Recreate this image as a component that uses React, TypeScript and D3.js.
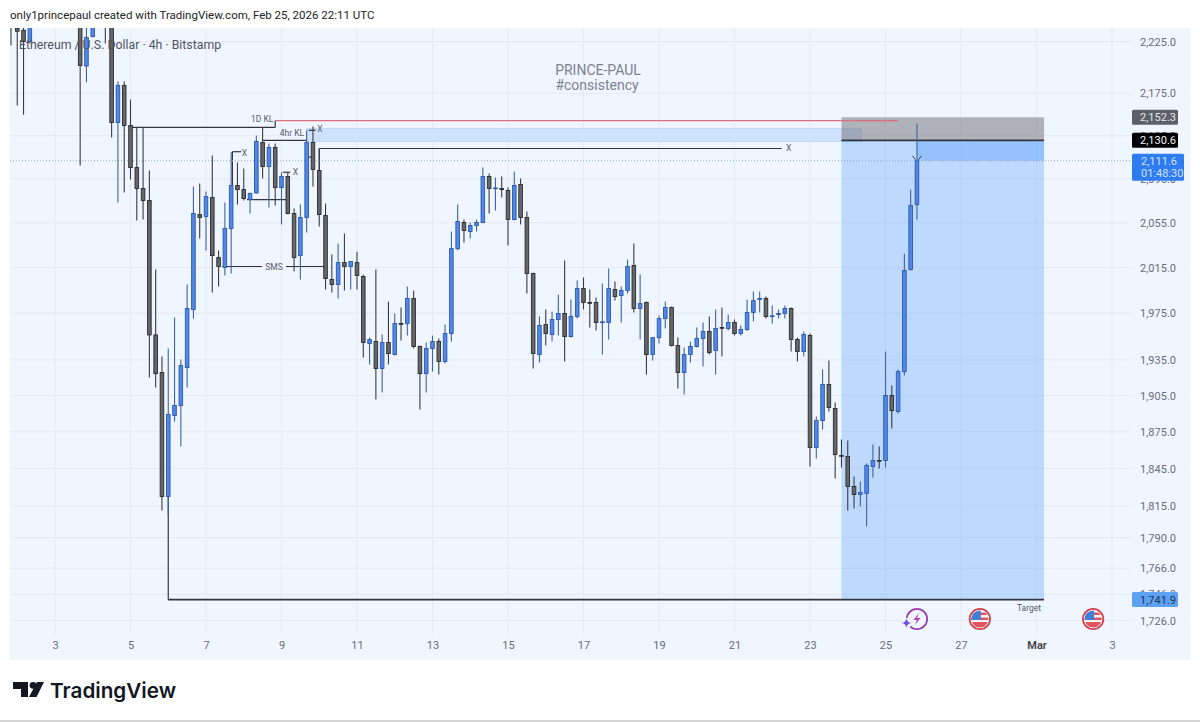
import React, { useRef, useEffect } from "react";
import * as d3 from "d3";

const WIDTH = 1200;
const HEIGHT = 722;

// Bars are 4h apart; the first one sits 7 bars before Feb 3
const FEB_3 = Date.UTC(2026, 1, 3);
const BAR_MS = 4 * 3600 * 1000;
const FIRST_BAR = -7;

const opens = [
  2250, 2238, 2236, 2225, 2250, 2262, 2274, 2268, 2276, 2288, 2276,
  2262, 2201.2, 2230, 2248, 2256, 2248, 2147.3, 2182.6, 2144.5, 2105.3,
  2086.1, 2075.1, 1956.3, 1924.3, 1822.5, 1888.4, 1896.7, 1928.5, 1978.2, 2062.4,
  2060.6, 2077.8, 2023.8, 2015, 2049.8, 2088.8, 2085.1, 2076, 2082, 2128.6,
  2106.3, 2124, 2086.9, 2097.1, 2063.3, 2025.6, 2059.7, 2128.6, 2102.6, 2061.5,
  2004.5, 2000.1, 2019.4, 2015.9, 2019.4, 2007.1, 1949, 1950.7, 1927.7, 1949.8,
  1939.6, 1966.1, 1966, 1987.8, 1946.4, 1923.4, 1944.7, 1950.7, 1933.6, 1957.5,
  2031.8, 2055.2, 2047.1, 2052.5, 2055.2, 2097.1, 2086, 2086.1, 2084.2, 2057.9,
  2089.7, 2059.7, 2009.8, 1939.6, 1965.2, 1956.7, 1969.6, 1974.8, 1954.9, 1972.2,
  1996.6, 1984.3, 1984.3, 1967, 1967, 1995.7, 1990.4, 1994.8, 2016.8, 1979.1,
  1984.3, 1939.6, 1954, 1970.4, 1980, 1947.2, 1924.3, 1939.6, 1946.4, 1953.2,
  1959.3, 1943, 1962.7, 1961.8, 1967, 1957.5, 1961, 1975.7, 1987, 1987.8,
  1972.2, 1973.9, 1974.8, 1979.1, 1952.4, 1942.1, 1955.8, 1862.1, 1884.2, 1914.3,
  1894.2, 1855.5, 1854.7, 1830.5, 1824.1, 1824.9, 1846.6, 1851.5, 1851.5, 1905,
  1891.7, 1925.1, 2013.3, 2071.4,
];

const highs = [
  2255, 2255, 2245, 2260, 2266, 2280, 2290, 2284, 2295, 2298, 2286,
  2270, 2245, 2255, 2262, 2265, 2256, 2186.4, 2186.4, 2169.1, 2142.7,
  2142.7, 2102.6, 2013.3, 1937.9, 1944.7, 1971.3, 1935.3, 2000.1, 2087.9, 2090.7,
  2083.3, 2116.5, 2030, 2073.3, 2119.4, 2110, 2104.5, 2082.4, 2135.2, 2142.7,
  2127.7, 2127.7, 2100.8, 2100.8, 2067.8, 2071.4, 2139.9, 2143.6, 2123, 2072.4,
  2026.5, 2036.3, 2045.3, 2020.3, 2029.1, 2008.9, 1954, 2013.3, 1956.7, 1985.1,
  1974.8, 1980, 1998.3, 1994.8, 1947.2, 1949.8, 1955.8, 1953.2, 1965.2, 2047,
  2071.4, 2057.9, 2055.2, 2057.9, 2105.4, 2099.9, 2096.2, 2097.1, 2086.9, 2101.7,
  2095.2, 2065.1, 2010.5, 1972.2, 1978.3, 1976.5, 1991.3, 2021.2, 1986.9, 2003.6,
  2006.2, 1995.7, 1988.6, 2001, 2014.2, 2002.7, 1998.3, 2022.1, 2036.3, 2008.9,
  1985.1, 1954, 1973, 1985.1, 1980.8, 1954, 1945.5, 1950.7, 1962.7, 1967,
  1972.2, 1978.3, 1980, 1973.9, 1969.6, 1964.4, 1986.9, 1993.9, 1993.9, 1989.5,
  1981.7, 1978.3, 1981.7, 1980, 1954, 1959.3, 1957.5, 1887.5, 1926.9, 1934.5,
  1899.2, 1868.6, 1867.8, 1838.5, 1834.5, 1849.1, 1864.5, 1862.9, 1942.1, 1913.4,
  1926.9, 2027.3, 2085.1, 2146.4,
];

const lows = [
  2221, 2163.5, 2154.6, 2223, 2244, 2256, 2262, 2258, 2266, 2270, 2250,
  2107.2, 2185.5, 2229, 2240, 2223, 2133.3, 2073.3, 2082.4, 2094.3, 2057,
  2057.9, 1920.1, 1911.7, 1811.3, 1808, 1883.4, 1862.9, 1911.7, 1970.4, 2040.8,
  2030, 1993.1, 1998.3, 2008, 2009.8, 2071.4, 2075.1, 2063.3, 2081.5, 2095.2,
  2068.7, 2070.5, 2053.4, 2062.4, 2011.5, 2004.5, 2046.2, 2087.9, 2051.6, 1995.7,
  1993, 1987.8, 1994.8, 1995.7, 1995.7, 1937, 1931.1, 1901.6, 1907.5, 1931.1,
  1938.8, 1951.5, 1955.8, 1944.7, 1893.3, 1907.5, 1925.1, 1922.6, 1932, 1950.7,
  2030, 2037.2, 2040.8, 2047.1, 2054.5, 2063.3, 2066, 2077.8, 2034.5, 2057,
  2053.4, 1992.2, 1927.7, 1932.8, 1947.2, 1950.7, 1955.8, 1933.6, 1954, 1970.4,
  1978.3, 1962.7, 1960.1, 1939.6, 1952.4, 1986, 1967, 1992.2, 1975.7, 1952.4,
  1922.6, 1934.5, 1949, 1961.8, 1946.5, 1910.9, 1905.8, 1932.8, 1945.5, 1929.4,
  1939.6, 1922.6, 1937.9, 1960.1, 1955.8, 1955.8, 1960, 1967.8, 1975.7, 1970.4,
  1966.1, 1970.4, 1970.4, 1942.1, 1933.6, 1937.9, 1846.6, 1853.1, 1876.8, 1891.7,
  1836.9, 1845.8, 1811.3, 1812.9, 1814.5, 1798.7, 1837.7, 1845, 1845.8, 1877.6,
  1890, 1921.8, 2012.4, 2057.9,
];

const closes = [
  2242, 2235, 2225, 2250, 2262, 2274, 2268, 2276, 2288, 2276, 2262,
  2201.8, 2229, 2248, 2256, 2248, 2147.3, 2182.6, 2144.5, 2105.3, 2086.1,
  2075.1, 1956.3, 1923.4, 1822.5, 1889.2, 1896.7, 1930.2, 1979.1, 2063.3, 2059.7,
  2078.7, 2025.6, 2015.9, 2049.8, 2088.8, 2085.1, 2076.9, 2081.5, 2129.6, 2106.3,
  2124, 2086.9, 2097.1, 2063.3, 2023.8, 2059.7, 2128.6, 2103.5, 2062.4, 2005.4,
  2000.1, 2019.4, 2015.9, 2020.3, 2008, 1949.8, 1952.4, 1927.7, 1949.8, 1940.4,
  1966.1, 1965.5, 1987.8, 1946.4, 1923.4, 1944.7, 1950.7, 1933.6, 1957.5, 2031.8,
  2056.1, 2048, 2052.5, 2055.2, 2097.1, 2086.1, 2086.6, 2085.1, 2057.9, 2088.8,
  2059.7, 2009.8, 1940.4, 1964.4, 1957.5, 1969.6, 1974.8, 1954.9, 1972.2, 1996.6,
  1984.3, 1983.8, 1967, 1967.6, 1996.6, 1989.5, 1994.8, 2015.9, 1979.1, 1983.4,
  1939.6, 1954, 1970.4, 1980, 1947.2, 1924.3, 1939.6, 1946.4, 1953.2, 1959.3,
  1941.3, 1961.8, 1962.2, 1967, 1957.5, 1961, 1975.7, 1986, 1987.8, 1972.2,
  1972.8, 1974.8, 1979.1, 1952.4, 1942.1, 1956.7, 1862.1, 1884.2, 1914.3, 1895,
  1856.3, 1855, 1830.5, 1824.1, 1825.7, 1847.5, 1851.5, 1851, 1905, 1892.5,
  1925.1, 2012.4, 2070.5, 2111.6,
];

const priceTicks = [2225, 2175, 2135, 2095, 2055, 2015, 1975, 1935, 1905, 1875, 1845, 1815, 1790, 1766, 1746, 1726];
const dateTicks = [
  [1, 3], [1, 5], [1, 7], [1, 9], [1, 11], [1, 13], [1, 15], [1, 17], [1, 19],
  [1, 21], [1, 23], [1, 25], [1, 27], [2, 1], [2, 3],
].map(([m, d]) => new Date(Date.UTC(2026, m, d)));

// Long position drawing and levels
const targetPrice = 1741.9;
const entryPrice = 2130.6;
const stopPrice = 2152.3;
const lastPrice = 2111.6;
const redLevel = 2149.2;
const keyLevel1D = 2142.7;
const zone4hTop = 2141.8;
const zone4hBottom = 2129.6;
const xLevelLong = 2123;

// [fromBar, toBar, price]
const hLines: [number, number, number][] = [
  [12, 35, keyLevel1D],
  [33, 40, 2130.5],
  [28.2, 29.6, 2120],
  [36.2, 37.4, 2101],
  [30.5, 37, 2076],
  [40.3, 41.2, 2115],
  [40.3, 41.4, 2140],
  [42, 115.5, xLevelLong],
  [26.6, 43, 2015.9],
];
const vLines: [number, number, number][] = [
  [28.2, 2120, 2087],
  [35, redLevel, keyLevel1D],
  [42, xLevelLong, 2102],
];
const xMarks: [number, number][] = [
  [30.1, 2119],
  [38.2, 2101],
  [42.1, 2141],
  [116.6, 2123],
];

const usDataDates = [Date.UTC(2026, 1, 27, 12), Date.UTC(2026, 2, 2, 12)];
const flashDate = Date.UTC(2026, 1, 25, 20);

const x = d3
  .scaleUtc()
  .domain([new Date(FEB_3), new Date(Date.UTC(2026, 2, 3))])
  .range([55, 1112]);
const y = d3.scaleLog().domain([1726, 2225]).range([620.5, 41.5]);
const bar = (i: number) => x(new Date(FEB_3 + i * BAR_MS));

const FONT = "Roboto, sans-serif";
const TEXT_GREY = "#6a6d78";

const App: React.FC = () => {
  const svgRef = useRef<SVGSVGElement>(null);

  useEffect(() => {
    if (!svgRef.current) return;
    const svg = d3.select(svgRef.current);
    svg.selectAll("*").remove();

    svg.append("rect").attr("width", WIDTH).attr("height", HEIGHT).attr("fill", "#fff");
    svg.append("rect").attr("x", 10).attr("y", 28).attr("width", 1180).attr("height", 632).attr("fill", "#f0f6ff");
    svg.append("rect").attr("x", 0).attr("y", 720).attr("width", WIDTH).attr("height", 2).attr("fill", "#d4d4d4");

    svg
      .append("text")
      .attr("x", 10)
      .attr("y", 19)
      .attr("font-family", FONT)
      .attr("font-size", 11.5)
      .attr("fill", "#222")
      .text("only1princepaul created with TradingView.com, Feb 25, 2026 22:11 UTC");

    const defs = svg.append("defs");
    defs
      .append("clipPath")
      .attr("id", "plot-clip")
      .append("rect")
      .attr("x", 10)
      .attr("y", 28)
      .attr("width", 1122)
      .attr("height", 632);

    // Grid
    const grid = svg.append("g").attr("stroke", "#e4e9f3").attr("stroke-width", 1);
    grid
      .selectAll("line.h")
      .data(priceTicks)
      .join("line")
      .attr("x1", 10)
      .attr("x2", 1132)
      .attr("y1", (d) => y(d))
      .attr("y2", (d) => y(d));
    grid
      .selectAll("line.v")
      .data(dateTicks)
      .join("line")
      .attr("x1", (d) => x(d))
      .attr("x2", (d) => x(d))
      .attr("y1", 28)
      .attr("y2", 633);

    // Watermark and title
    const mark = svg
      .append("g")
      .attr("font-family", FONT)
      .attr("font-size", 14)
      .attr("fill", "#7c8290")
      .attr("text-anchor", "middle");
    mark.append("text").attr("x", 598).attr("y", 75).text("PRINCE-PAUL");
    mark.append("text").attr("x", 597).attr("y", 90).text("#consistency");

    // Position zones
    const boxLeft = bar(125);
    const boxRight = bar(157.2);
    const zones = svg.append("g");
    zones
      .append("rect")
      .attr("x", bar(40))
      .attr("width", bar(128.2) - bar(40))
      .attr("y", y(zone4hTop))
      .attr("height", y(zone4hBottom) - y(zone4hTop))
      .attr("fill", "#cfe2fb")
      .attr("stroke", "#bed7f9");
    zones
      .append("rect")
      .attr("x", boxLeft)
      .attr("width", boxRight - boxLeft)
      .attr("y", y(entryPrice))
      .attr("height", y(targetPrice) - y(entryPrice))
      .attr("fill", "rgba(90,160,250,0.34)");
    zones
      .append("rect")
      .attr("x", boxLeft)
      .attr("width", boxRight - boxLeft)
      .attr("y", y(stopPrice))
      .attr("height", y(entryPrice) - y(stopPrice))
      .attr("fill", "rgba(115,115,125,0.52)");
    zones
      .append("rect")
      .attr("x", bar(137))
      .attr("width", boxRight - bar(137))
      .attr("y", y(entryPrice))
      .attr("height", y(lastPrice) - y(entryPrice))
      .attr("fill", "rgba(90,160,250,0.4)");

    // Drawn levels
    const levels = svg.append("g").attr("stroke", "#33363f").attr("stroke-width", 1.2);
    levels
      .selectAll("line.hl")
      .data(hLines)
      .join("line")
      .attr("x1", (d) => bar(d[0]))
      .attr("x2", (d) => bar(d[1]))
      .attr("y1", (d) => y(d[2]))
      .attr("y2", (d) => y(d[2]));
    levels
      .selectAll("line.vl")
      .data(vLines)
      .join("line")
      .attr("x1", (d) => bar(d[0]))
      .attr("x2", (d) => bar(d[0]))
      .attr("y1", (d) => y(d[1]))
      .attr("y2", (d) => y(d[2]));
    // Target line and its drop from the low candle
    levels
      .append("line")
      .attr("x1", bar(18))
      .attr("x2", boxRight)
      .attr("y1", y(targetPrice))
      .attr("y2", y(targetPrice))
      .attr("stroke-width", 1.6);
    levels
      .append("line")
      .attr("x1", bar(18))
      .attr("x2", bar(18))
      .attr("y1", y(closes[18 - FIRST_BAR]))
      .attr("y2", y(targetPrice));
    levels
      .append("line")
      .attr("x1", boxLeft)
      .attr("x2", boxRight)
      .attr("y1", y(entryPrice))
      .attr("y2", y(entryPrice))
      .attr("stroke-width", 1.6);
    svg
      .append("line")
      .attr("x1", bar(35))
      .attr("x2", bar(134))
      .attr("y1", y(redLevel))
      .attr("y2", y(redLevel))
      .attr("stroke", "#d9707e")
      .attr("stroke-width", 1.2);

    // Last price dotted line
    svg
      .append("line")
      .attr("x1", 10)
      .attr("x2", 1132)
      .attr("y1", y(lastPrice))
      .attr("y2", y(lastPrice))
      .attr("stroke", "#8da3c4")
      .attr("stroke-width", 1)
      .attr("stroke-dasharray", "1 2");

    // Candles
    const candles = opens.map((open, k) => ({
      i: k + FIRST_BAR,
      open,
      high: highs[k],
      low: lows[k],
      close: closes[k],
    }));
    const plot = svg.append("g").attr("clip-path", "url(#plot-clip)");
    const candle = plot
      .selectAll("g")
      .data(candles)
      .join("g")
      .attr("transform", (d) => `translate(${bar(d.i)},0)`);
    candle
      .append("line")
      .attr("y1", (d) => y(d.high))
      .attr("y2", (d) => y(d.low))
      .attr("stroke", (d) => (d.close >= d.open ? "#3f62a3" : "#3a3b40"))
      .attr("stroke-width", 1.1);
    candle
      .append("rect")
      .attr("x", -1.8)
      .attr("width", 3.6)
      .attr("y", (d) => y(Math.max(d.open, d.close)))
      .attr("height", (d) => Math.max(0.8, Math.abs(y(d.open) - y(d.close))))
      .attr("fill", (d) => (d.close >= d.open ? "#5187e6" : "#666769"))
      .attr("stroke", (d) => (d.close >= d.open ? "#2c58ad" : "#2b2b2e"))
      .attr("stroke-width", 0.9);

    // Arrowhead where price tagged the entry
    const tipX = bar(137);
    const tipY = y(lastPrice) - 1;
    svg
      .append("path")
      .attr("d", `M${tipX - 4.5},${tipY - 4}L${tipX - 1.5},${tipY}M${tipX + 4.5},${tipY - 4}L${tipX + 1.5},${tipY}`)
      .attr("fill", "none")
      .attr("stroke", "#33363f")
      .attr("stroke-width", 1);

    // Drawing labels
    const labels = svg.append("g").attr("font-family", FONT).attr("font-size", 8.5).attr("fill", "#565a66");
    labels.append("text").attr("x", bar(34.7)).attr("y", y(keyLevel1D) - 5).attr("text-anchor", "end").text("1D KL");
    labels.append("text").attr("x", bar(39.6)).attr("y", y(2130.5) - 4).attr("text-anchor", "end").text("4hr KL");
    labels
      .append("text")
      .attr("x", 1029)
      .attr("y", y(targetPrice) + 11)
      .attr("text-anchor", "middle")
      .text("Target");
    labels
      .selectAll("text.x")
      .data(xMarks)
      .join("text")
      .attr("x", (d) => bar(d[0]))
      .attr("y", (d) => y(d[1]) + 3)
      .attr("text-anchor", "middle")
      .text("X");
    labels
      .append("rect")
      .attr("x", bar(34.8) - 12)
      .attr("y", y(2015.9) - 5)
      .attr("width", 24)
      .attr("height", 10)
      .attr("fill", "#f0f6ff");
    labels
      .append("text")
      .attr("x", bar(34.8))
      .attr("y", y(2015.9) + 3)
      .attr("text-anchor", "middle")
      .text("SMS");

    svg
      .append("text")
      .attr("x", 19)
      .attr("y", 48.5)
      .attr("font-family", FONT)
      .attr("font-size", 12.3)
      .attr("fill", "#50535e")
      .text("Ethereum / U.S. Dollar · 4h · Bitstamp");

    // Axes
    const yAxis = d3
      .axisRight(y)
      .tickValues(priceTicks)
      .tickSize(0)
      .tickPadding(0)
      .tickFormat((d) => d3.format(",.1f")(d as number));
    const yG = svg.append("g").attr("transform", "translate(1140,0)").call(yAxis);
    yG.select(".domain").remove();
    yG.selectAll("text")
      .attr("font-family", FONT)
      .attr("font-size", 11)
      .attr("fill", TEXT_GREY);

    const xAxis = d3
      .axisBottom(x)
      .tickValues(dateTicks)
      .tickSize(0)
      .tickPadding(0)
      .tickFormat((d) => {
        const date = d as Date;
        return date.getUTCMonth() === 2 && date.getUTCDate() === 1 ? "Mar" : String(date.getUTCDate());
      });
    const xG = svg.append("g").attr("transform", "translate(0,641)").call(xAxis);
    xG.select(".domain").remove();
    xG.selectAll("text")
      .attr("font-family", FONT)
      .attr("font-size", 11)
      .attr("fill", TEXT_GREY);
    xG.selectAll<SVGTextElement, Date>("text")
      .filter((d) => d.getUTCMonth() === 2 && d.getUTCDate() === 1)
      .attr("font-weight", 600)
      .attr("fill", "#3d3f47");

    // Price tags
    const tag = (price: number, fill: string, color: string, text: string) => {
      const py = y(price);
      svg.append("rect").attr("x", 1132).attr("y", py - 7.5).attr("width", 46).attr("height", 15).attr("rx", 1.5).attr("fill", fill);
      svg
        .append("text")
        .attr("x", 1140)
        .attr("y", py + 4)
        .attr("font-family", FONT)
        .attr("font-size", 11)
        .attr("fill", color)
        .text(text);
    };
    tag(stopPrice, "#5e6069", "#e3e4e8", d3.format(",.1f")(stopPrice));
    tag(entryPrice, "#000", "#f2f2f2", d3.format(",.1f")(entryPrice));
    tag(targetPrice, "#5da2f2", "#1f3350", d3.format(",.1f")(targetPrice));

    svg.append("rect").attr("x", 1132).attr("y", y(lastPrice) - 7).attr("width", 52).attr("height", 27).attr("rx", 1.5).attr("fill", "#2f7bf0");
    const lastLabel = svg.append("g").attr("font-family", FONT).attr("font-size", 11).attr("fill", "#cfe2ff");
    lastLabel.append("text").attr("x", 1141).attr("y", y(lastPrice) + 4).text(d3.format(",.1f")(lastPrice));
    lastLabel.append("text").attr("x", 1141).attr("y", y(lastPrice) + 16).text("01:48:30");

    // Event icons on the time axis
    const flags = svg
      .append("g")
      .selectAll("g")
      .data(usDataDates)
      .join("g")
      .attr("transform", (d) => `translate(${x(new Date(d))},619)`);
    defs.append("clipPath").attr("id", "flag-clip").append("circle").attr("r", 8.6);
    flags.append("circle").attr("r", 10.2).attr("fill", "#fff").attr("stroke", "#d2424e").attr("stroke-width", 1.8);
    const flagInner = flags.append("g").attr("clip-path", "url(#flag-clip)");
    [-6.5, -1.5].forEach((sy) =>
      flagInner.append("rect").attr("x", -9).attr("y", sy).attr("width", 18).attr("height", 2.6).attr("fill", "#e0555d")
    );
    flagInner.append("rect").attr("x", -9).attr("y", 3).attr("width", 18).attr("height", 6).attr("fill", "#e0555d");
    flagInner.append("rect").attr("x", -9).attr("y", -9).attr("width", 10).attr("height", 10).attr("fill", "#3f7fd8");

    const flash = svg.append("g").attr("transform", `translate(${x(new Date(flashDate))},619)`);
    flash.append("circle").attr("r", 10.2).attr("fill", "#f0f6ff").attr("stroke", "#9a3db5").attr("stroke-width", 1.8);
    flash.append("path").attr("d", "M2,-6L-3.5,1H0L-2,6L3.5,-1H0Z").attr("fill", "#b13fc0");
    flash.append("circle").attr("cx", -10.5).attr("cy", 4).attr("r", 5.2).attr("fill", "#f0f6ff");
    flash
      .append("path")
      .attr("d", "M-10.5,-1Q-10,3.5 -5.5,4Q-10,4.5 -10.5,9Q-11,4.5 -15.5,4Q-11,3.5 -10.5,-1Z")
      .attr("fill", "#7650e0");

    // TradingView logo
    const logo = svg.append("g").attr("fill", "#131722");
    logo.append("path").attr("d", "M13,682H28V697H21V689H13Z");
    logo.append("circle").attr("cx", 33).attr("cy", 685.3).attr("r", 3.4);
    logo.append("path").attr("d", "M37,682H44L36.5,697H29Z");
    logo
      .append("text")
      .attr("x", 50)
      .attr("y", 698)
      .attr("font-family", "Inter, Roboto, sans-serif")
      .attr("font-size", 20.7)
      .attr("font-weight", 600)
      .text("TradingView");
  }, []);

  return (
    <svg
      ref={svgRef}
      width={WIDTH}
      height={HEIGHT}
      style={{ position: "absolute", left: 0, top: 0, display: "block" }}
    />
  );
};

export default App;
